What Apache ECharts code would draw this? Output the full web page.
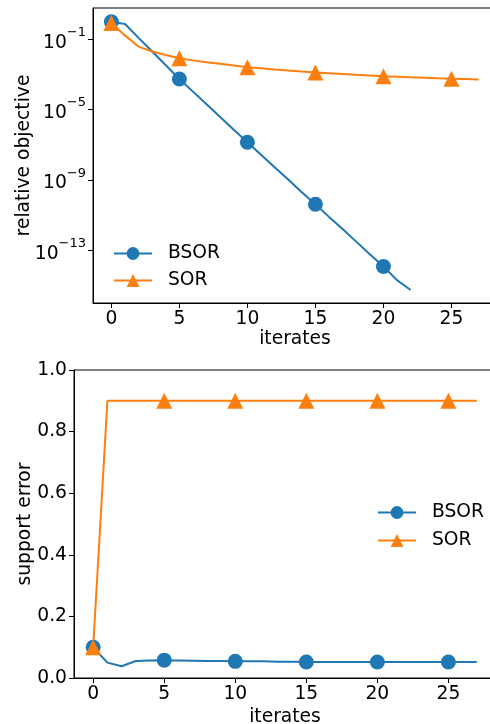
<!DOCTYPE html>
<html>
<head>
<meta charset="utf-8">
<script src="https://cdn.jsdelivr.net/npm/echarts@6/dist/echarts.min.js"></script>
<style>
  html, body { margin: 0; padding: 0; background: #fff; }
  #chart { width: 490px; height: 724px; }
</style>
</head>
<body>
<div id="chart"></div>
<script>
// data
const iterates = [0, 1, 2, 3, 4, 5, 6, 7, 8, 9, 10, 11, 12, 13, 14, 15, 16, 17, 18, 19, 20, 21, 22, 23, 24, 25, 26, 27];
const bsorObjective = [1.0, 0.74, 0.12, 0.02, 3.3e-3, 5.5e-4, 1.05e-4, 2.0e-5, 3.8e-6, 7.2e-7, 1.4e-7, 2.7e-8, 5.2e-9,
  1.05e-9, 2.0e-10, 4.1e-11, 7.9e-12, 1.6e-12, 3.1e-13, 6.0e-14, 1.2e-14, 2.0e-15, 5.5e-16];
const sorObjective = [0.85, 0.166, 0.038, 0.020, 0.0126, 8.3e-3, 6.3e-3, 5.0e-3, 4.0e-3, 3.2e-3, 2.6e-3, 2.24e-3, 1.9e-3,
  1.66e-3, 1.45e-3, 1.29e-3, 1.15e-3, 1.05e-3, 9.5e-4, 8.7e-4, 7.9e-4, 7.4e-4, 6.9e-4, 6.5e-4, 6.0e-4, 5.75e-4, 5.5e-4, 5.2e-4];
const bsorSupport = [0.100, 0.050, 0.038, 0.055, 0.057, 0.058, 0.057, 0.056, 0.055, 0.055, 0.054, 0.054, 0.054, 0.053,
  0.053, 0.052, 0.052, 0.052, 0.052, 0.052, 0.052, 0.052, 0.052, 0.052, 0.052, 0.052, 0.052, 0.052];
const sorSupport = [0.100, 0.9, 0.9, 0.9, 0.9, 0.9, 0.9, 0.9, 0.9, 0.9, 0.9, 0.9, 0.9, 0.9,
  0.9, 0.9, 0.9, 0.9, 0.9, 0.9, 0.9, 0.9, 0.9, 0.9, 0.9, 0.9, 0.9, 0.9];
const xTicks = [0, 5, 10, 15, 20, 25];
const logTicks = [1e-13, 1e-9, 1e-5, 1e-1];
const seriesNames = ['BSOR', 'SOR'];

const BLUE = '#1f77b4';
const ORANGE = '#ff7f0e';
const FONT = 'DejaVu Sans';
const FS = 18.7;

// markers only every 5th iterate
const toPoints = (ys) => ys.map((y, i) => (
  i % 5 === 0 ? [iterates[i], y] : { value: [iterates[i], y], symbol: 'none' }
));

const makeSeries = (name, ys, color, symbol, idx) => ({
  name,
  type: 'line',
  xAxisIndex: idx,
  yAxisIndex: idx,
  data: toPoints(ys),
  symbol,
  symbolSize: symbol === 'circle' ? 15 : 16,
  showAllSymbol: true,
  lineStyle: { color, width: 2 },
  itemStyle: { color, borderWidth: 0 },
  emphasis: { disabled: true },
  animation: false,
});

const xAxisBase = (gridIndex, nameGap) => ({
  type: 'value',
  gridIndex,
  min: -1.35,
  max: 28.35,
  name: 'iterates',
  nameLocation: 'middle',
  nameGap,
  nameMoveOverlap: false,
  nameTextStyle: { fontFamily: FONT, fontSize: FS, color: '#000' },
  axisLine: { onZero: false, lineStyle: { color: '#000', width: 1 } },
  axisTick: { show: true, length: 5, customValues: xTicks, lineStyle: { color: '#000' } },
  axisLabel: { customValues: xTicks, margin: 7, fontFamily: FONT, fontSize: FS, color: '#000' },
  splitLine: { show: false },
});

const legendBase = {
  orient: 'vertical',
  itemWidth: 38,
  itemHeight: 16,
  textStyle: { fontFamily: FONT, fontSize: FS, color: '#000', padding: [0, 0, 0, 11] },
  data: seriesNames,
  selectedMode: false,
};

const chart = echarts.init(document.getElementById('chart'));

chart.setOption({
  backgroundColor: '#fff',
  animation: false,
  grid: [
    { left: 93, top: 8, width: 404, height: 295, outerBoundsMode: 'none', containLabel: false,
      show: true, borderColor: '#000', borderWidth: 1 },
    { left: 74, top: 370, width: 422, height: 308, outerBoundsMode: 'none', containLabel: false,
      show: true, borderColor: '#000', borderWidth: 1 },
  ],
  xAxis: [xAxisBase(0, 27), xAxisBase(1, 30)],
  yAxis: [
    {
      type: 'log',
      logBase: 10,
      gridIndex: 0,
      min: 1e-16,
      max: 6,
      name: 'relative objective',
      nameLocation: 'middle',
      nameGap: 59,
      nameMoveOverlap: false,
      nameTextStyle: { fontFamily: FONT, fontSize: FS, color: '#000' },
      axisLine: { show: true, onZero: false, lineStyle: { color: '#000', width: 1 } },
      axisTick: { show: true, length: 5, customValues: logTicks, lineStyle: { color: '#000' } },
      axisLabel: {
        customValues: logTicks,
        margin: 7,
        formatter: (v) => {
          const e = Math.round(Math.log10(v));
          return '{b|10}{s|\u2212' + (-e) + '}';
        },
        rich: {
          b: { fontFamily: FONT, fontSize: FS, color: '#000', verticalAlign: 'bottom', lineHeight: 26 },
          s: { fontFamily: FONT, fontSize: 13, color: '#000', verticalAlign: 'top', lineHeight: 13 },
        },
      },
      splitLine: { show: false },
      minorTick: { show: false },
    },
    {
      type: 'value',
      gridIndex: 1,
      min: 0,
      max: 1,
      interval: 0.2,
      name: 'support error',
      nameLocation: 'middle',
      nameGap: 39,
      nameMoveOverlap: false,
      nameTextStyle: { fontFamily: FONT, fontSize: FS, color: '#000' },
      axisLine: { show: true, onZero: false, lineStyle: { color: '#000', width: 1 } },
      axisTick: { show: true, length: 5, lineStyle: { color: '#000' } },
      axisLabel: {
        margin: 7,
        fontFamily: FONT,
        fontSize: FS,
        color: '#000',
        formatter: (v) => v.toFixed(1),
      },
      splitLine: { show: false },
    },
  ],
  legend: [
    Object.assign({}, legendBase, { left: 108, top: 239, itemGap: 8 }),
    Object.assign({}, legendBase, { left: 372, top: 498, itemGap: 9 }),
  ],
  series: [
    makeSeries(seriesNames[0], bsorObjective, BLUE, 'circle', 0),
    makeSeries(seriesNames[1], sorObjective, ORANGE, 'triangle', 0),
    makeSeries(seriesNames[0], bsorSupport, BLUE, 'circle', 1),
    makeSeries(seriesNames[1], sorSupport, ORANGE, 'triangle', 1),
  ],
});
</script>
</body>
</html>
